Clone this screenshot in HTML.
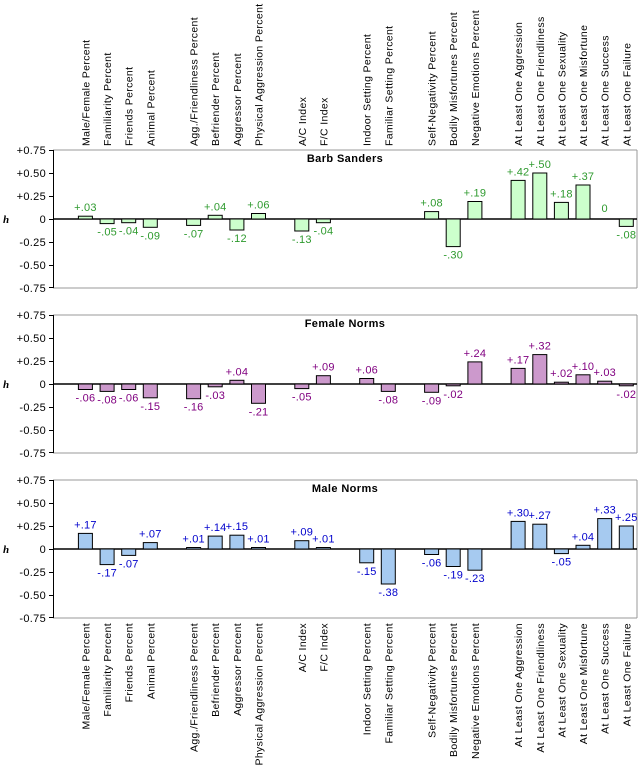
<!DOCTYPE html>
<html><head><meta charset="utf-8"><style>
html,body{margin:0;padding:0;background:#fff}
svg{display:block;font-family:"Liberation Sans",sans-serif}
.t{font-size:10.5px;fill:#000;letter-spacing:0.35px}
.tk{font-size:11px;fill:#000;text-anchor:end;letter-spacing:0.3px}
.g text{font-size:11px;text-anchor:middle;fill:#2e9a2e;letter-spacing:0.2px}
.p text{font-size:11px;text-anchor:middle;fill:#800080;letter-spacing:0.2px}
.b text{font-size:11px;text-anchor:middle;fill:#0000cc;letter-spacing:0.2px}
.g rect{fill:#ccffcc;stroke:#000;stroke-width:1}
.p rect{fill:#cc99cc;stroke:#000;stroke-width:1}
.b rect{fill:#a6caf0;stroke:#000;stroke-width:1}
.ti{font-size:11px;font-weight:bold;text-anchor:middle;fill:#000;letter-spacing:0.4px}
</style></head><body>
<svg width="640" height="768" viewBox="0 0 640 768">
<defs>
<g id="ax">
<line x1="53" y1="-69" x2="637" y2="-69" stroke="#999"/>
<line x1="637" y1="-69" x2="637" y2="69" stroke="#999"/>
<line x1="53" y1="69" x2="637" y2="69" stroke="#999"/>
<line x1="53.5" y1="-69" x2="53.5" y2="69" stroke="#000"/>
<line x1="53" y1="0" x2="637" y2="0" stroke="#000" stroke-width="1.5"/>
<path d="M49 -68.5H53M49 -45.5H53M49 -22.5H53M49 0.5H53M49 23.5H53M49 46.5H53M49 68.5H53" stroke="#000"/>
<text class="tk" x="46" y="-65">+0.75</text>
<text class="tk" x="46" y="-42">+0.50</text>
<text class="tk" x="46" y="-19">+0.25</text>
<text class="tk" x="46" y="4">0</text>
<text class="tk" x="46" y="27">-0.25</text>
<text class="tk" x="46" y="50">-0.50</text>
<text class="tk" x="46" y="73">-0.75</text>
<text x="3" y="4" style="font-size:11px;font-weight:bold;font-style:italic;font-family:'Liberation Serif',serif">h</text>
</g>
</defs>

<g class="t">
<text transform="translate(89.4,146) rotate(-90)">Male/Female Percent</text>
<text transform="translate(111.1,146) rotate(-90)">Familiarity Percent</text>
<text transform="translate(132.7,146) rotate(-90)">Friends Percent</text>
<text transform="translate(154.3,146) rotate(-90)">Animal Percent</text>
<text transform="translate(197.6,146) rotate(-90)">Agg./Friendliness Percent</text>
<text transform="translate(219.2,146) rotate(-90)">Befriender Percent</text>
<text transform="translate(240.9,146) rotate(-90)">Aggressor Percent</text>
<text transform="translate(262.5,146) rotate(-90)">Physical Aggression Percent</text>
<text transform="translate(305.8,146) rotate(-90)">A/C Index</text>
<text transform="translate(327.4,146) rotate(-90)">F/C Index</text>
<text transform="translate(370.7,146) rotate(-90)">Indoor Setting Percent</text>
<text transform="translate(392.3,146) rotate(-90)">Familiar Setting Percent</text>
<text transform="translate(435.6,146) rotate(-90)">Self-Negativity Percent</text>
<text transform="translate(457.2,146) rotate(-90)">Bodily Misfortunes Percent</text>
<text transform="translate(478.9,146) rotate(-90)">Negative Emotions Percent</text>
<text transform="translate(522.1,146) rotate(-90)">At Least One Aggression</text>
<text transform="translate(543.8,146) rotate(-90)">At Least One Friendliness</text>
<text transform="translate(565.4,146) rotate(-90)">At Least One Sexuality</text>
<text transform="translate(587,146) rotate(-90)">At Least One Misfortune</text>
<text transform="translate(608.7,146) rotate(-90)">At Least One Success</text>
<text transform="translate(630.3,146) rotate(-90)">At Least One Failure</text>
</g>

<g class="t" style="text-anchor:end">
<text transform="translate(89.4,623) rotate(-90)">Male/Female Percent</text>
<text transform="translate(111.1,623) rotate(-90)">Familiarity Percent</text>
<text transform="translate(132.7,623) rotate(-90)">Friends Percent</text>
<text transform="translate(154.3,623) rotate(-90)">Animal Percent</text>
<text transform="translate(197.6,623) rotate(-90)">Agg./Friendliness Percent</text>
<text transform="translate(219.2,623) rotate(-90)">Befriender Percent</text>
<text transform="translate(240.9,623) rotate(-90)">Aggressor Percent</text>
<text transform="translate(262.5,623) rotate(-90)">Physical Aggression Percent</text>
<text transform="translate(305.8,623) rotate(-90)">A/C Index</text>
<text transform="translate(327.4,623) rotate(-90)">F/C Index</text>
<text transform="translate(370.7,623) rotate(-90)">Indoor Setting Percent</text>
<text transform="translate(392.3,623) rotate(-90)">Familiar Setting Percent</text>
<text transform="translate(435.6,623) rotate(-90)">Self-Negativity Percent</text>
<text transform="translate(457.2,623) rotate(-90)">Bodily Misfortunes Percent</text>
<text transform="translate(478.9,623) rotate(-90)">Negative Emotions Percent</text>
<text transform="translate(522.1,623) rotate(-90)">At Least One Aggression</text>
<text transform="translate(543.8,623) rotate(-90)">At Least One Friendliness</text>
<text transform="translate(565.4,623) rotate(-90)">At Least One Sexuality</text>
<text transform="translate(587,623) rotate(-90)">At Least One Misfortune</text>
<text transform="translate(608.7,623) rotate(-90)">At Least One Success</text>
<text transform="translate(630.3,623) rotate(-90)">At Least One Failure</text>
</g>

<g transform="translate(0,219)">
<use href="#ax"/>
<text class="ti" x="345" y="-57">Barb Sanders</text>
<g class="g">
<rect x="78.4" y="-2.8" width="14" height="2.8"/><text x="85.4" y="-7.8">+.03</text>
<rect x="100.1" y="0" width="14" height="4.6"/><text x="107.1" y="16.6">-.05</text>
<rect x="121.7" y="0" width="14" height="3.7"/><text x="128.7" y="15.7">-.04</text>
<rect x="143.3" y="0" width="14" height="8.3"/><text x="150.3" y="20.3">-.09</text>
<rect x="186.6" y="0" width="14" height="6.4"/><text x="193.6" y="18.4">-.07</text>
<rect x="208.2" y="-3.7" width="14" height="3.7"/><text x="215.2" y="-8.7">+.04</text>
<rect x="229.9" y="0" width="14" height="11"/><text x="236.9" y="23">-.12</text>
<rect x="251.5" y="-5.5" width="14" height="5.5"/><text x="258.5" y="-10.5">+.06</text>
<rect x="294.8" y="0" width="14" height="12"/><text x="301.8" y="24">-.13</text>
<rect x="316.4" y="0" width="14" height="3.7"/><text x="323.4" y="15.7">-.04</text>
<rect x="424.6" y="-7.4" width="14" height="7.4"/><text x="431.6" y="-12.4">+.08</text>
<rect x="446.2" y="0" width="14" height="27.6"/><text x="453.2" y="39.6">-.30</text>
<rect x="467.9" y="-17.5" width="14" height="17.5"/><text x="474.9" y="-22.5">+.19</text>
<rect x="511.1" y="-38.6" width="14" height="38.6"/><text x="518.1" y="-43.6">+.42</text>
<rect x="532.8" y="-46" width="14" height="46"/><text x="539.8" y="-51">+.50</text>
<rect x="554.4" y="-16.6" width="14" height="16.6"/><text x="561.4" y="-21.6">+.18</text>
<rect x="576" y="-34" width="14" height="34"/><text x="583" y="-39">+.37</text>
<text x="604.7" y="-7">0</text>
<rect x="619.3" y="0" width="14" height="7.4"/><text x="626.3" y="19.4">-.08</text>
</g>
</g>

<g transform="translate(0,384)">
<use href="#ax"/>
<text class="ti" x="345" y="-57">Female Norms</text>
<g class="p">
<rect x="78.4" y="0" width="14" height="5.5"/><text x="85.4" y="17.5">-.06</text>
<rect x="100.1" y="0" width="14" height="7.4"/><text x="107.1" y="19.4">-.08</text>
<rect x="121.7" y="0" width="14" height="5.5"/><text x="128.7" y="17.5">-.06</text>
<rect x="143.3" y="0" width="14" height="13.8"/><text x="150.3" y="25.8">-.15</text>
<rect x="186.6" y="0" width="14" height="14.7"/><text x="193.6" y="26.7">-.16</text>
<rect x="208.2" y="0" width="14" height="2.8"/><text x="215.2" y="14.8">-.03</text>
<rect x="229.9" y="-3.7" width="14" height="3.7"/><text x="236.9" y="-8.7">+.04</text>
<rect x="251.5" y="0" width="14" height="19.3"/><text x="258.5" y="31.3">-.21</text>
<rect x="294.8" y="0" width="14" height="4.6"/><text x="301.8" y="16.6">-.05</text>
<rect x="316.4" y="-8.3" width="14" height="8.3"/><text x="323.4" y="-13.3">+.09</text>
<rect x="359.7" y="-5.5" width="14" height="5.5"/><text x="366.7" y="-10.5">+.06</text>
<rect x="381.3" y="0" width="14" height="7.4"/><text x="388.3" y="19.4">-.08</text>
<rect x="424.6" y="0" width="14" height="8.3"/><text x="431.6" y="20.3">-.09</text>
<rect x="446.2" y="0" width="14" height="1.8"/><text x="453.2" y="13.8">-.02</text>
<rect x="467.9" y="-22.1" width="14" height="22.1"/><text x="474.9" y="-27.1">+.24</text>
<rect x="511.1" y="-15.6" width="14" height="15.6"/><text x="518.1" y="-20.6">+.17</text>
<rect x="532.8" y="-29.4" width="14" height="29.4"/><text x="539.8" y="-34.4">+.32</text>
<rect x="554.4" y="-1.8" width="14" height="1.8"/><text x="561.4" y="-6.8">+.02</text>
<rect x="576" y="-9.2" width="14" height="9.2"/><text x="583" y="-14.2">+.10</text>
<rect x="597.7" y="-2.8" width="14" height="2.8"/><text x="604.7" y="-7.8">+.03</text>
<rect x="619.3" y="0" width="14" height="1.8"/><text x="626.3" y="13.8">-.02</text>
</g>
</g>

<g transform="translate(0,549)">
<use href="#ax"/>
<text class="ti" x="345" y="-57">Male Norms</text>
<g class="b">
<rect x="78.4" y="-15.6" width="14" height="15.6"/><text x="85.4" y="-20.6">+.17</text>
<rect x="100.1" y="0" width="14" height="15.6"/><text x="107.1" y="27.6">-.17</text>
<rect x="121.7" y="0" width="14" height="6.4"/><text x="128.7" y="18.4">-.07</text>
<rect x="143.3" y="-6.4" width="14" height="6.4"/><text x="150.3" y="-11.4">+.07</text>
<rect x="186.6" y="-1.5" width="14" height="1.5"/><text x="193.6" y="-6.5">+.01</text>
<rect x="208.2" y="-12.9" width="14" height="12.9"/><text x="215.2" y="-17.9">+.14</text>
<rect x="229.9" y="-13.8" width="14" height="13.8"/><text x="236.9" y="-18.8">+.15</text>
<rect x="251.5" y="-1.5" width="14" height="1.5"/><text x="258.5" y="-6.5">+.01</text>
<rect x="294.8" y="-8.3" width="14" height="8.3"/><text x="301.8" y="-13.3">+.09</text>
<rect x="316.4" y="-1.5" width="14" height="1.5"/><text x="323.4" y="-6.5">+.01</text>
<rect x="359.7" y="0" width="14" height="13.8"/><text x="366.7" y="25.8">-.15</text>
<rect x="381.3" y="0" width="14" height="35"/><text x="388.3" y="47">-.38</text>
<rect x="424.6" y="0" width="14" height="5.5"/><text x="431.6" y="17.5">-.06</text>
<rect x="446.2" y="0" width="14" height="17.5"/><text x="453.2" y="29.5">-.19</text>
<rect x="467.9" y="0" width="14" height="21.2"/><text x="474.9" y="33.2">-.23</text>
<rect x="511.1" y="-27.6" width="14" height="27.6"/><text x="518.1" y="-32.6">+.30</text>
<rect x="532.8" y="-24.8" width="14" height="24.8"/><text x="539.8" y="-29.8">+.27</text>
<rect x="554.4" y="0" width="14" height="4.6"/><text x="561.4" y="16.6">-.05</text>
<rect x="576" y="-3.7" width="14" height="3.7"/><text x="583" y="-8.7">+.04</text>
<rect x="597.7" y="-30.4" width="14" height="30.4"/><text x="604.7" y="-35.4">+.33</text>
<rect x="619.3" y="-23" width="14" height="23"/><text x="626.3" y="-28">+.25</text>
</g>
</g>
</svg>
</body></html>
